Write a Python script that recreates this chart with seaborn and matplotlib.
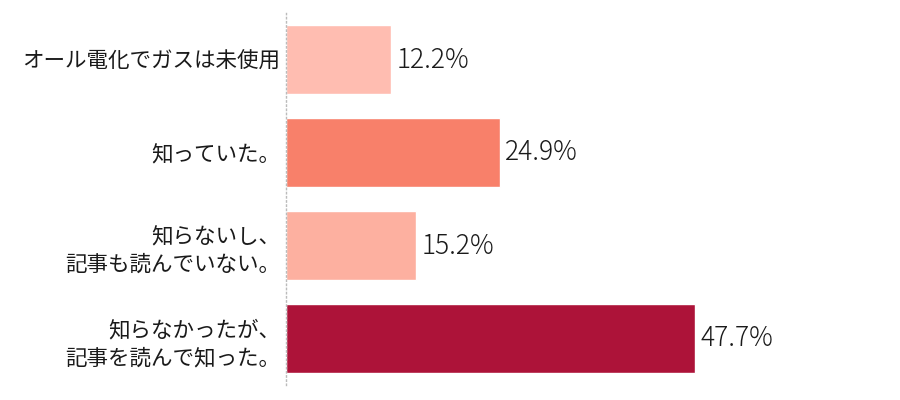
import matplotlib
matplotlib.use("Agg")
import matplotlib.pyplot as plt
import seaborn as sns
import pandas as pd

categories = ["オール電化でガスは未使用", "知っていた。", "知らないし、\n記事も読んでいない。", "知らなかったが、\n記事を読んで知った。"]
values = [12.2, 24.9, 15.2, 47.7]
colors = ["#FFBDB1", "#F8806A", "#FDB0A0", "#AD1339"]

sns.set_theme(style="white")
plt.rcParams['font.family'] = ['Noto Sans CJK JP', 'DejaVu Sans']

df = pd.DataFrame({"cat": categories, "val": values})
fig = plt.figure(figsize=(9, 4), dpi=100)
ax = fig.add_axes([286/900, 1-385/400, (900-286)/900, 372/400])
sns.barplot(data=df, y="cat", x="val", hue="cat", palette=colors, legend=False,
            width=0.74, ax=ax, saturation=1)
ax.set_xlim(0, (900-286)/(409/47.7))
ax.set_ylim(3.5, -0.5)
for c in ax.containers:
    ax.bar_label(c, labels=[f"{v:.1f}%" for v in c.datavalues], padding=4,
                 fontsize=19, fontweight="light", color="#1a1a1a")
ax.set_xlabel("")
ax.set_ylabel("")
ax.set_xticks([])
ax.tick_params(axis='y', length=0, pad=4, labelsize=15.5, labelcolor="#1a1a1a")
for t in ax.get_yticklabels():
    t.set_linespacing(1.35)
for s in ["top", "right", "bottom"]:
    ax.spines[s].set_visible(False)
ax.spines["left"].set_linestyle((0, (1, 2)))
ax.spines["left"].set_color("#bbbbbb")
ax.spines["left"].set_linewidth(1)
fig.savefig("out.png", dpi=100)
